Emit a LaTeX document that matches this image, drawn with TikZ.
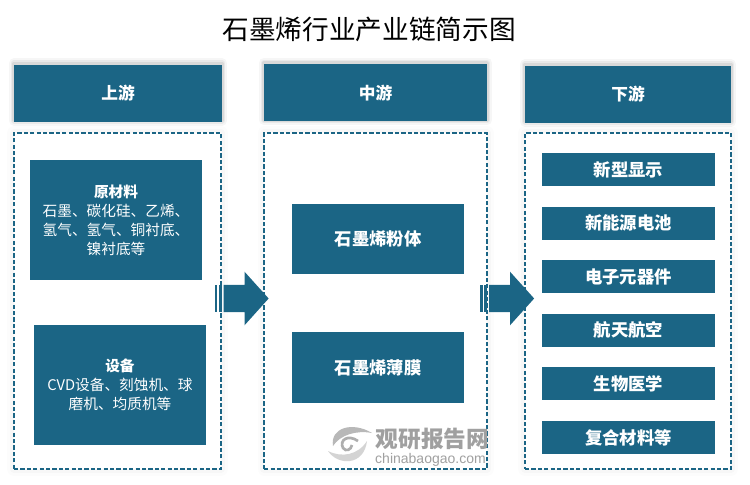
\documentclass[tikz,border=0pt]{standalone}
\usepackage{fontspec}
\setmainfont{Noto Sans CJK SC}
\setsansfont{Liberation Sans}
\usetikzlibrary{positioning, shapes.arrows}

\definecolor{chainblue}{RGB}{27,101,133}
\definecolor{markgray}{RGB}{160,160,160}

\tikzset{
    softshadow/.style={
        preaction={draw=black, draw opacity=.035, line width=8pt, line join=round, transform canvas={yshift=1.2pt}},
        preaction={draw=black, draw opacity=.05, line width=5pt, line join=round, transform canvas={yshift=1.2pt}},
        preaction={draw=black, draw opacity=.07, line width=2.5pt, line join=round, transform canvas={yshift=1.2pt}}},
    faintshadow/.style={
        preaction={draw=black, draw opacity=.012, solid, line width=10pt, line join=round},
        preaction={draw=black, draw opacity=.018, solid, line width=6pt, line join=round}},
    header/.style={softshadow, fill=chainblue, text=white, minimum width=156pt, minimum height=42.75pt,
        inner sep=0pt, font=\fontsize{12.5}{15}\selectfont\bfseries},
    frame/.style={faintshadow, draw=chainblue, fill=white, line width=1.1pt, dash pattern=on 3.2pt off 1.6pt,
        minimum width=155.25pt, minimum height=252pt, inner sep=0pt},
    rawbox/.style={fill=chainblue, text=white, minimum width=129pt, minimum height=90pt,
        inner sep=0pt, align=center, font=\fontsize{11}{14.2}\selectfont},
    midbox/.style={fill=chainblue, text=white, minimum width=129pt, minimum height=52.75pt,
        inner sep=0pt, font=\fontsize{13}{16}\selectfont\bfseries},
    endbox/.style={fill=chainblue, text=white, minimum width=129.75pt, minimum height=24.75pt,
        inner sep=0pt, font=\fontsize{13}{16}\selectfont\bfseries},
    bigarrow/.style={single arrow, anchor=tip, fill=chainblue, minimum height=33.75pt, inner xsep=0pt, inner ysep=10.1pt,
        text height=0pt, text depth=0pt, text width=0pt, single arrow tip angle=96, single arrow head extend=9.8pt},
    bar/.style={fill=chainblue, minimum height=20.25pt, inner sep=0pt}
}

\begin{document}
\begin{tikzpicture}[x=0.75pt, y=-0.75pt, node distance=40.2pt, on grid]
    \useasboundingbox (0,0) rectangle (750,485);

    % Title
    \node (title) at (369,29) {\fontsize{20}{24}\selectfont 石墨烯行业产业链简示图};

    % Columns
    \node[header] (up) at (118,93.5) {上游};
    \node[header, minimum width=167.25pt] (mid) at (375.5,93) {中游};
    \node[header, minimum width=154.5pt] (down) at (628,94.5) {下游};
    \node[frame] (upframe) at (117.5,301) {};
    \node[frame, minimum width=167pt] (midframe) at (375.5,301) {};
    \node[frame, minimum width=154.5pt] (downframe) at (628,301) {};

    % Upstream
    \node[rawbox] (raw) at (116,220) {{\bfseries 原材料}\\石墨、碳化硅、乙烯、\\氢气、氢气、铜衬底、\\镍衬底等};
    \node[rawbox] (equip) at (120,384.5) {{\bfseries 设备}\\CVD设备、刻蚀机、球\\磨机、均质机等};

    % Midstream
    \node[midbox] (powder) at (378,239) {石墨烯粉体};
    \node[midbox] (film) at (378,367.5) {石墨烯薄膜};

    % Downstream
    \node[endbox] (display) at (628.5,169.5) {新型显示};
    \node[endbox] (battery) [below=of display] {新能源电池};
    \node[endbox] (parts) [below=of battery] {电子元器件};
    \node[endbox] (space) [below=of parts] {航天航空};
    \node[endbox] (bio) [below=of space] {生物医学};
    \node[endbox] (composite) [below=of bio] {复合材料等};

    % Arrows
    \node[bar, minimum width=1.7pt] (bara) at (216.2,298.5) {};
    \node[bar, minimum width=2.2pt] (barb) at (220.2,298.5) {};
    \node[bigarrow] (arrowa) at (269,298.5) {};
    \node[bar, minimum width=1.8pt] (barc) at (481.5,298.5) {};
    \node[bar, minimum width=2.4pt] (bard) at (485.7,298.5) {};
    \node[bigarrow] (arrowb) at (534.5,298.5) {};

    % Watermark
    \node[text=markgray, font=\fontsize{17}{20}\selectfont\bfseries] (markcn) at (432.5,439) {观研报告网};
    \node[text=markgray, font=\sffamily\fontsize{10.5}{12}\selectfont] (markurl) at (430.5,460) {chinabaogao.com};
    \fill[markgray!75] (372,433) .. controls (352,421) and (330,428) .. (333,446)
        .. controls (340,435) and (356,430) .. cycle;
    \fill[markgray!45] (328,451) .. controls (338,466) and (364,466) .. (367,441)
        .. controls (358,455) and (342,458) .. cycle;
    \draw[markgray!85, line width=2pt] (358,441) .. controls (348,434) and (339,440) .. (343,448)
        .. controls (346,452) and (351,450) .. (352,445);
\end{tikzpicture}
\end{document}
